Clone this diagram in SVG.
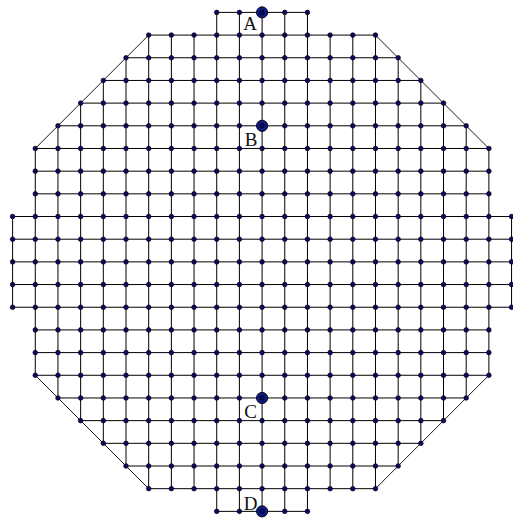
<svg xmlns="http://www.w3.org/2000/svg" xmlns:xlink="http://www.w3.org/1999/xlink" width="513" height="518" viewBox="0 0 513 518">
<style>
.e{stroke:#000;stroke-width:1;fill:none}
.dg{stroke:#000;stroke-width:0.9;fill:none}
.big{fill:#0c1c84;stroke:#000;stroke-width:0.9}
.lbl{font-family:"Liberation Serif","Times New Roman",serif;font-size:19px;fill:#111;text-anchor:end}
</style>
<defs>
<circle id="d" cx="0" cy="0" r="2.3" fill="#0a0a6e" stroke="#000" stroke-width="0.7"/>
</defs>
<rect width="513" height="518" fill="#fff"/>
<g id="edges">
<path class="e" d="M216.72 12.40H307.44M148.68 35.08H375.48M126.00 57.76H398.16M103.32 80.44H420.84M80.64 103.12H443.52M57.96 125.80H466.20M35.28 148.48H488.88M35.28 171.16H488.88M35.28 193.84H488.88M12.60 216.52H511.56M12.60 239.20H511.56M12.60 261.88H511.56M12.60 284.56H511.56M12.60 307.24H511.56M35.28 329.92H488.88M35.28 352.60H488.88M35.28 375.28H488.88M57.96 397.96H466.20M80.64 420.64H443.52M103.32 443.32H420.84M126.00 466.00H398.16M148.68 488.68H375.48M216.72 511.36H307.44"/>
<path class="e" d="M12.60 216.52V307.24M511.56 216.52V307.24M35.28 148.48V375.28M488.88 148.48V375.28M57.96 125.80V397.96M466.20 125.80V397.96M80.64 103.12V420.64M443.52 103.12V420.64M103.32 80.44V443.32M420.84 80.44V443.32M126.00 57.76V466.00M398.16 57.76V466.00M148.68 35.08V488.68M171.36 35.08V488.68M194.04 35.08V488.68M330.12 35.08V488.68M352.80 35.08V488.68M375.48 35.08V488.68M216.72 12.40V511.36M239.40 12.40V511.36M262.08 12.40V511.36M284.76 12.40V511.36M307.44 12.40V511.36"/>
<path class="dg" d="M148.68 35.08L35.28 148.48M375.48 35.08L488.88 148.48M35.28 375.28L148.68 488.68M488.88 375.28L375.48 488.68"/>
</g>
<g id="nodes">
<g transform="translate(0,12.40)"><use id="n0_9" href="#d" x="216.72"/><use id="n0_10" href="#d" x="239.40"/><use id="n0_12" href="#d" x="284.76"/><use id="n0_13" href="#d" x="307.44"/></g>
<g transform="translate(0,35.08)"><use id="n1_6" href="#d" x="148.68"/><use id="n1_7" href="#d" x="171.36"/><use id="n1_8" href="#d" x="194.04"/><use id="n1_9" href="#d" x="216.72"/><use id="n1_10" href="#d" x="239.40"/><use id="n1_11" href="#d" x="262.08"/><use id="n1_12" href="#d" x="284.76"/><use id="n1_13" href="#d" x="307.44"/><use id="n1_14" href="#d" x="330.12"/><use id="n1_15" href="#d" x="352.80"/><use id="n1_16" href="#d" x="375.48"/></g>
<g transform="translate(0,57.76)"><use id="n2_5" href="#d" x="126.00"/><use id="n2_6" href="#d" x="148.68"/><use id="n2_7" href="#d" x="171.36"/><use id="n2_8" href="#d" x="194.04"/><use id="n2_9" href="#d" x="216.72"/><use id="n2_10" href="#d" x="239.40"/><use id="n2_11" href="#d" x="262.08"/><use id="n2_12" href="#d" x="284.76"/><use id="n2_13" href="#d" x="307.44"/><use id="n2_14" href="#d" x="330.12"/><use id="n2_15" href="#d" x="352.80"/><use id="n2_16" href="#d" x="375.48"/><use id="n2_17" href="#d" x="398.16"/></g>
<g transform="translate(0,80.44)"><use id="n3_4" href="#d" x="103.32"/><use id="n3_5" href="#d" x="126.00"/><use id="n3_6" href="#d" x="148.68"/><use id="n3_7" href="#d" x="171.36"/><use id="n3_8" href="#d" x="194.04"/><use id="n3_9" href="#d" x="216.72"/><use id="n3_10" href="#d" x="239.40"/><use id="n3_11" href="#d" x="262.08"/><use id="n3_12" href="#d" x="284.76"/><use id="n3_13" href="#d" x="307.44"/><use id="n3_14" href="#d" x="330.12"/><use id="n3_15" href="#d" x="352.80"/><use id="n3_16" href="#d" x="375.48"/><use id="n3_17" href="#d" x="398.16"/><use id="n3_18" href="#d" x="420.84"/></g>
<g transform="translate(0,103.12)"><use id="n4_3" href="#d" x="80.64"/><use id="n4_4" href="#d" x="103.32"/><use id="n4_5" href="#d" x="126.00"/><use id="n4_6" href="#d" x="148.68"/><use id="n4_7" href="#d" x="171.36"/><use id="n4_8" href="#d" x="194.04"/><use id="n4_9" href="#d" x="216.72"/><use id="n4_10" href="#d" x="239.40"/><use id="n4_11" href="#d" x="262.08"/><use id="n4_12" href="#d" x="284.76"/><use id="n4_13" href="#d" x="307.44"/><use id="n4_14" href="#d" x="330.12"/><use id="n4_15" href="#d" x="352.80"/><use id="n4_16" href="#d" x="375.48"/><use id="n4_17" href="#d" x="398.16"/><use id="n4_18" href="#d" x="420.84"/><use id="n4_19" href="#d" x="443.52"/></g>
<g transform="translate(0,125.80)"><use id="n5_2" href="#d" x="57.96"/><use id="n5_3" href="#d" x="80.64"/><use id="n5_4" href="#d" x="103.32"/><use id="n5_5" href="#d" x="126.00"/><use id="n5_6" href="#d" x="148.68"/><use id="n5_7" href="#d" x="171.36"/><use id="n5_8" href="#d" x="194.04"/><use id="n5_9" href="#d" x="216.72"/><use id="n5_10" href="#d" x="239.40"/><use id="n5_12" href="#d" x="284.76"/><use id="n5_13" href="#d" x="307.44"/><use id="n5_14" href="#d" x="330.12"/><use id="n5_15" href="#d" x="352.80"/><use id="n5_16" href="#d" x="375.48"/><use id="n5_17" href="#d" x="398.16"/><use id="n5_18" href="#d" x="420.84"/><use id="n5_19" href="#d" x="443.52"/><use id="n5_20" href="#d" x="466.20"/></g>
<g transform="translate(0,148.48)"><use id="n6_1" href="#d" x="35.28"/><use id="n6_2" href="#d" x="57.96"/><use id="n6_3" href="#d" x="80.64"/><use id="n6_4" href="#d" x="103.32"/><use id="n6_5" href="#d" x="126.00"/><use id="n6_6" href="#d" x="148.68"/><use id="n6_7" href="#d" x="171.36"/><use id="n6_8" href="#d" x="194.04"/><use id="n6_9" href="#d" x="216.72"/><use id="n6_10" href="#d" x="239.40"/><use id="n6_11" href="#d" x="262.08"/><use id="n6_12" href="#d" x="284.76"/><use id="n6_13" href="#d" x="307.44"/><use id="n6_14" href="#d" x="330.12"/><use id="n6_15" href="#d" x="352.80"/><use id="n6_16" href="#d" x="375.48"/><use id="n6_17" href="#d" x="398.16"/><use id="n6_18" href="#d" x="420.84"/><use id="n6_19" href="#d" x="443.52"/><use id="n6_20" href="#d" x="466.20"/><use id="n6_21" href="#d" x="488.88"/></g>
<g transform="translate(0,171.16)"><use id="n7_1" href="#d" x="35.28"/><use id="n7_2" href="#d" x="57.96"/><use id="n7_3" href="#d" x="80.64"/><use id="n7_4" href="#d" x="103.32"/><use id="n7_5" href="#d" x="126.00"/><use id="n7_6" href="#d" x="148.68"/><use id="n7_7" href="#d" x="171.36"/><use id="n7_8" href="#d" x="194.04"/><use id="n7_9" href="#d" x="216.72"/><use id="n7_10" href="#d" x="239.40"/><use id="n7_11" href="#d" x="262.08"/><use id="n7_12" href="#d" x="284.76"/><use id="n7_13" href="#d" x="307.44"/><use id="n7_14" href="#d" x="330.12"/><use id="n7_15" href="#d" x="352.80"/><use id="n7_16" href="#d" x="375.48"/><use id="n7_17" href="#d" x="398.16"/><use id="n7_18" href="#d" x="420.84"/><use id="n7_19" href="#d" x="443.52"/><use id="n7_20" href="#d" x="466.20"/><use id="n7_21" href="#d" x="488.88"/></g>
<g transform="translate(0,193.84)"><use id="n8_1" href="#d" x="35.28"/><use id="n8_2" href="#d" x="57.96"/><use id="n8_3" href="#d" x="80.64"/><use id="n8_4" href="#d" x="103.32"/><use id="n8_5" href="#d" x="126.00"/><use id="n8_6" href="#d" x="148.68"/><use id="n8_7" href="#d" x="171.36"/><use id="n8_8" href="#d" x="194.04"/><use id="n8_9" href="#d" x="216.72"/><use id="n8_10" href="#d" x="239.40"/><use id="n8_11" href="#d" x="262.08"/><use id="n8_12" href="#d" x="284.76"/><use id="n8_13" href="#d" x="307.44"/><use id="n8_14" href="#d" x="330.12"/><use id="n8_15" href="#d" x="352.80"/><use id="n8_16" href="#d" x="375.48"/><use id="n8_17" href="#d" x="398.16"/><use id="n8_18" href="#d" x="420.84"/><use id="n8_19" href="#d" x="443.52"/><use id="n8_20" href="#d" x="466.20"/><use id="n8_21" href="#d" x="488.88"/></g>
<g transform="translate(0,216.52)"><use id="n9_0" href="#d" x="12.60"/><use id="n9_1" href="#d" x="35.28"/><use id="n9_2" href="#d" x="57.96"/><use id="n9_3" href="#d" x="80.64"/><use id="n9_4" href="#d" x="103.32"/><use id="n9_5" href="#d" x="126.00"/><use id="n9_6" href="#d" x="148.68"/><use id="n9_7" href="#d" x="171.36"/><use id="n9_8" href="#d" x="194.04"/><use id="n9_9" href="#d" x="216.72"/><use id="n9_10" href="#d" x="239.40"/><use id="n9_11" href="#d" x="262.08"/><use id="n9_12" href="#d" x="284.76"/><use id="n9_13" href="#d" x="307.44"/><use id="n9_14" href="#d" x="330.12"/><use id="n9_15" href="#d" x="352.80"/><use id="n9_16" href="#d" x="375.48"/><use id="n9_17" href="#d" x="398.16"/><use id="n9_18" href="#d" x="420.84"/><use id="n9_19" href="#d" x="443.52"/><use id="n9_20" href="#d" x="466.20"/><use id="n9_21" href="#d" x="488.88"/><use id="n9_22" href="#d" x="511.56"/></g>
<g transform="translate(0,239.20)"><use id="n10_0" href="#d" x="12.60"/><use id="n10_1" href="#d" x="35.28"/><use id="n10_2" href="#d" x="57.96"/><use id="n10_3" href="#d" x="80.64"/><use id="n10_4" href="#d" x="103.32"/><use id="n10_5" href="#d" x="126.00"/><use id="n10_6" href="#d" x="148.68"/><use id="n10_7" href="#d" x="171.36"/><use id="n10_8" href="#d" x="194.04"/><use id="n10_9" href="#d" x="216.72"/><use id="n10_10" href="#d" x="239.40"/><use id="n10_11" href="#d" x="262.08"/><use id="n10_12" href="#d" x="284.76"/><use id="n10_13" href="#d" x="307.44"/><use id="n10_14" href="#d" x="330.12"/><use id="n10_15" href="#d" x="352.80"/><use id="n10_16" href="#d" x="375.48"/><use id="n10_17" href="#d" x="398.16"/><use id="n10_18" href="#d" x="420.84"/><use id="n10_19" href="#d" x="443.52"/><use id="n10_20" href="#d" x="466.20"/><use id="n10_21" href="#d" x="488.88"/><use id="n10_22" href="#d" x="511.56"/></g>
<g transform="translate(0,261.88)"><use id="n11_0" href="#d" x="12.60"/><use id="n11_1" href="#d" x="35.28"/><use id="n11_2" href="#d" x="57.96"/><use id="n11_3" href="#d" x="80.64"/><use id="n11_4" href="#d" x="103.32"/><use id="n11_5" href="#d" x="126.00"/><use id="n11_6" href="#d" x="148.68"/><use id="n11_7" href="#d" x="171.36"/><use id="n11_8" href="#d" x="194.04"/><use id="n11_9" href="#d" x="216.72"/><use id="n11_10" href="#d" x="239.40"/><use id="n11_11" href="#d" x="262.08"/><use id="n11_12" href="#d" x="284.76"/><use id="n11_13" href="#d" x="307.44"/><use id="n11_14" href="#d" x="330.12"/><use id="n11_15" href="#d" x="352.80"/><use id="n11_16" href="#d" x="375.48"/><use id="n11_17" href="#d" x="398.16"/><use id="n11_18" href="#d" x="420.84"/><use id="n11_19" href="#d" x="443.52"/><use id="n11_20" href="#d" x="466.20"/><use id="n11_21" href="#d" x="488.88"/><use id="n11_22" href="#d" x="511.56"/></g>
<g transform="translate(0,284.56)"><use id="n12_0" href="#d" x="12.60"/><use id="n12_1" href="#d" x="35.28"/><use id="n12_2" href="#d" x="57.96"/><use id="n12_3" href="#d" x="80.64"/><use id="n12_4" href="#d" x="103.32"/><use id="n12_5" href="#d" x="126.00"/><use id="n12_6" href="#d" x="148.68"/><use id="n12_7" href="#d" x="171.36"/><use id="n12_8" href="#d" x="194.04"/><use id="n12_9" href="#d" x="216.72"/><use id="n12_10" href="#d" x="239.40"/><use id="n12_11" href="#d" x="262.08"/><use id="n12_12" href="#d" x="284.76"/><use id="n12_13" href="#d" x="307.44"/><use id="n12_14" href="#d" x="330.12"/><use id="n12_15" href="#d" x="352.80"/><use id="n12_16" href="#d" x="375.48"/><use id="n12_17" href="#d" x="398.16"/><use id="n12_18" href="#d" x="420.84"/><use id="n12_19" href="#d" x="443.52"/><use id="n12_20" href="#d" x="466.20"/><use id="n12_21" href="#d" x="488.88"/><use id="n12_22" href="#d" x="511.56"/></g>
<g transform="translate(0,307.24)"><use id="n13_0" href="#d" x="12.60"/><use id="n13_1" href="#d" x="35.28"/><use id="n13_2" href="#d" x="57.96"/><use id="n13_3" href="#d" x="80.64"/><use id="n13_4" href="#d" x="103.32"/><use id="n13_5" href="#d" x="126.00"/><use id="n13_6" href="#d" x="148.68"/><use id="n13_7" href="#d" x="171.36"/><use id="n13_8" href="#d" x="194.04"/><use id="n13_9" href="#d" x="216.72"/><use id="n13_10" href="#d" x="239.40"/><use id="n13_11" href="#d" x="262.08"/><use id="n13_12" href="#d" x="284.76"/><use id="n13_13" href="#d" x="307.44"/><use id="n13_14" href="#d" x="330.12"/><use id="n13_15" href="#d" x="352.80"/><use id="n13_16" href="#d" x="375.48"/><use id="n13_17" href="#d" x="398.16"/><use id="n13_18" href="#d" x="420.84"/><use id="n13_19" href="#d" x="443.52"/><use id="n13_20" href="#d" x="466.20"/><use id="n13_21" href="#d" x="488.88"/><use id="n13_22" href="#d" x="511.56"/></g>
<g transform="translate(0,329.92)"><use id="n14_1" href="#d" x="35.28"/><use id="n14_2" href="#d" x="57.96"/><use id="n14_3" href="#d" x="80.64"/><use id="n14_4" href="#d" x="103.32"/><use id="n14_5" href="#d" x="126.00"/><use id="n14_6" href="#d" x="148.68"/><use id="n14_7" href="#d" x="171.36"/><use id="n14_8" href="#d" x="194.04"/><use id="n14_9" href="#d" x="216.72"/><use id="n14_10" href="#d" x="239.40"/><use id="n14_11" href="#d" x="262.08"/><use id="n14_12" href="#d" x="284.76"/><use id="n14_13" href="#d" x="307.44"/><use id="n14_14" href="#d" x="330.12"/><use id="n14_15" href="#d" x="352.80"/><use id="n14_16" href="#d" x="375.48"/><use id="n14_17" href="#d" x="398.16"/><use id="n14_18" href="#d" x="420.84"/><use id="n14_19" href="#d" x="443.52"/><use id="n14_20" href="#d" x="466.20"/><use id="n14_21" href="#d" x="488.88"/></g>
<g transform="translate(0,352.60)"><use id="n15_1" href="#d" x="35.28"/><use id="n15_2" href="#d" x="57.96"/><use id="n15_3" href="#d" x="80.64"/><use id="n15_4" href="#d" x="103.32"/><use id="n15_5" href="#d" x="126.00"/><use id="n15_6" href="#d" x="148.68"/><use id="n15_7" href="#d" x="171.36"/><use id="n15_8" href="#d" x="194.04"/><use id="n15_9" href="#d" x="216.72"/><use id="n15_10" href="#d" x="239.40"/><use id="n15_11" href="#d" x="262.08"/><use id="n15_12" href="#d" x="284.76"/><use id="n15_13" href="#d" x="307.44"/><use id="n15_14" href="#d" x="330.12"/><use id="n15_15" href="#d" x="352.80"/><use id="n15_16" href="#d" x="375.48"/><use id="n15_17" href="#d" x="398.16"/><use id="n15_18" href="#d" x="420.84"/><use id="n15_19" href="#d" x="443.52"/><use id="n15_20" href="#d" x="466.20"/><use id="n15_21" href="#d" x="488.88"/></g>
<g transform="translate(0,375.28)"><use id="n16_1" href="#d" x="35.28"/><use id="n16_2" href="#d" x="57.96"/><use id="n16_3" href="#d" x="80.64"/><use id="n16_4" href="#d" x="103.32"/><use id="n16_5" href="#d" x="126.00"/><use id="n16_6" href="#d" x="148.68"/><use id="n16_7" href="#d" x="171.36"/><use id="n16_8" href="#d" x="194.04"/><use id="n16_9" href="#d" x="216.72"/><use id="n16_10" href="#d" x="239.40"/><use id="n16_11" href="#d" x="262.08"/><use id="n16_12" href="#d" x="284.76"/><use id="n16_13" href="#d" x="307.44"/><use id="n16_14" href="#d" x="330.12"/><use id="n16_15" href="#d" x="352.80"/><use id="n16_16" href="#d" x="375.48"/><use id="n16_17" href="#d" x="398.16"/><use id="n16_18" href="#d" x="420.84"/><use id="n16_19" href="#d" x="443.52"/><use id="n16_20" href="#d" x="466.20"/><use id="n16_21" href="#d" x="488.88"/></g>
<g transform="translate(0,397.96)"><use id="n17_2" href="#d" x="57.96"/><use id="n17_3" href="#d" x="80.64"/><use id="n17_4" href="#d" x="103.32"/><use id="n17_5" href="#d" x="126.00"/><use id="n17_6" href="#d" x="148.68"/><use id="n17_7" href="#d" x="171.36"/><use id="n17_8" href="#d" x="194.04"/><use id="n17_9" href="#d" x="216.72"/><use id="n17_10" href="#d" x="239.40"/><use id="n17_12" href="#d" x="284.76"/><use id="n17_13" href="#d" x="307.44"/><use id="n17_14" href="#d" x="330.12"/><use id="n17_15" href="#d" x="352.80"/><use id="n17_16" href="#d" x="375.48"/><use id="n17_17" href="#d" x="398.16"/><use id="n17_18" href="#d" x="420.84"/><use id="n17_19" href="#d" x="443.52"/><use id="n17_20" href="#d" x="466.20"/></g>
<g transform="translate(0,420.64)"><use id="n18_3" href="#d" x="80.64"/><use id="n18_4" href="#d" x="103.32"/><use id="n18_5" href="#d" x="126.00"/><use id="n18_6" href="#d" x="148.68"/><use id="n18_7" href="#d" x="171.36"/><use id="n18_8" href="#d" x="194.04"/><use id="n18_9" href="#d" x="216.72"/><use id="n18_10" href="#d" x="239.40"/><use id="n18_11" href="#d" x="262.08"/><use id="n18_12" href="#d" x="284.76"/><use id="n18_13" href="#d" x="307.44"/><use id="n18_14" href="#d" x="330.12"/><use id="n18_15" href="#d" x="352.80"/><use id="n18_16" href="#d" x="375.48"/><use id="n18_17" href="#d" x="398.16"/><use id="n18_18" href="#d" x="420.84"/><use id="n18_19" href="#d" x="443.52"/></g>
<g transform="translate(0,443.32)"><use id="n19_4" href="#d" x="103.32"/><use id="n19_5" href="#d" x="126.00"/><use id="n19_6" href="#d" x="148.68"/><use id="n19_7" href="#d" x="171.36"/><use id="n19_8" href="#d" x="194.04"/><use id="n19_9" href="#d" x="216.72"/><use id="n19_10" href="#d" x="239.40"/><use id="n19_11" href="#d" x="262.08"/><use id="n19_12" href="#d" x="284.76"/><use id="n19_13" href="#d" x="307.44"/><use id="n19_14" href="#d" x="330.12"/><use id="n19_15" href="#d" x="352.80"/><use id="n19_16" href="#d" x="375.48"/><use id="n19_17" href="#d" x="398.16"/><use id="n19_18" href="#d" x="420.84"/></g>
<g transform="translate(0,466.00)"><use id="n20_5" href="#d" x="126.00"/><use id="n20_6" href="#d" x="148.68"/><use id="n20_7" href="#d" x="171.36"/><use id="n20_8" href="#d" x="194.04"/><use id="n20_9" href="#d" x="216.72"/><use id="n20_10" href="#d" x="239.40"/><use id="n20_11" href="#d" x="262.08"/><use id="n20_12" href="#d" x="284.76"/><use id="n20_13" href="#d" x="307.44"/><use id="n20_14" href="#d" x="330.12"/><use id="n20_15" href="#d" x="352.80"/><use id="n20_16" href="#d" x="375.48"/><use id="n20_17" href="#d" x="398.16"/></g>
<g transform="translate(0,488.68)"><use id="n21_6" href="#d" x="148.68"/><use id="n21_7" href="#d" x="171.36"/><use id="n21_8" href="#d" x="194.04"/><use id="n21_9" href="#d" x="216.72"/><use id="n21_10" href="#d" x="239.40"/><use id="n21_11" href="#d" x="262.08"/><use id="n21_12" href="#d" x="284.76"/><use id="n21_13" href="#d" x="307.44"/><use id="n21_14" href="#d" x="330.12"/><use id="n21_15" href="#d" x="352.80"/><use id="n21_16" href="#d" x="375.48"/></g>
<g transform="translate(0,511.36)"><use id="n22_9" href="#d" x="216.72"/><use id="n22_10" href="#d" x="239.40"/><use id="n22_12" href="#d" x="284.76"/><use id="n22_13" href="#d" x="307.44"/></g>
</g>
<g id="A"><circle class="big" cx="262.08" cy="12.40" r="5.6"/><use href="#d" x="262.08" y="12.40"/><text class="lbl" x="257" y="29.5">A</text></g>
<g id="B"><circle class="big" cx="262.08" cy="125.80" r="5.6"/><use href="#d" x="262.08" y="125.80"/><text class="lbl" x="257.5" y="145.5">B</text></g>
<g id="C"><circle class="big" cx="262.08" cy="397.96" r="5.6"/><use href="#d" x="262.08" y="397.96"/><text class="lbl" x="257" y="417.5">C</text></g>
<g id="D"><circle class="big" cx="262.08" cy="511.36" r="5.6"/><use href="#d" x="262.08" y="511.36"/><text class="lbl" x="257.5" y="509.5">D</text></g>
</svg>
